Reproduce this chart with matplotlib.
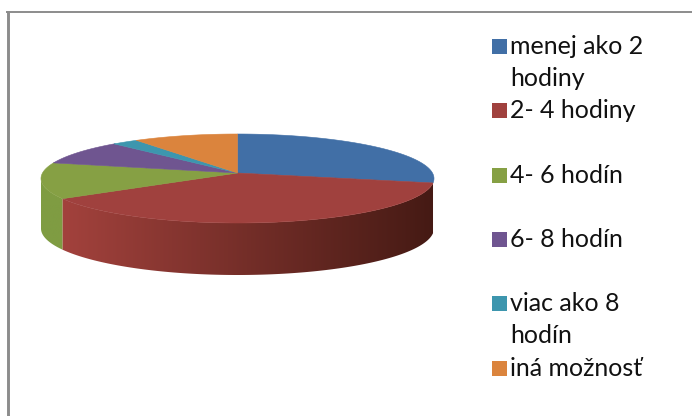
import numpy as np
import matplotlib
matplotlib.use("Agg")
import matplotlib.pyplot as plt
from matplotlib.colors import to_rgb, LinearSegmentedColormap
from matplotlib.patches import Rectangle, Polygon

categories = ["menej ako 2\nhodiny", "2- 4 hodiny", "4- 6 hodín", "6- 8 hodín", "viac ako 8\nhodín", "iná možnosť"]
values = [26.6, 40.9, 13.2, 8.5, 2.2, 8.6]
colors = ["#416fa6", "#a0413e", "#86a044", "#6f5590", "#3d96ae", "#db843d"]
legend_rows = [46.5, 110.5, 175.5, 239.5, 303.5, 368.5]

W, H = 692, 416
fig = plt.figure(figsize=(W / 100, H / 100), dpi=100, facecolor="white")
ax = fig.add_axes([0, 0, 1, 1])
ax.set_xlim(0, W)
ax.set_ylim(H, 0)
ax.axis("off")

# chart frame: only the top and left edges fall inside the picture
ax.plot([7.5, 7.5], [11, H], color="#8c8c8c", lw=2.1, solid_capstyle="butt")
ax.plot([6, W], [12, 12], color="#8c8c8c", lw=1.4, solid_capstyle="butt")

cx, cy, rx, ry, depth, extra = 237.5, 178.5, 196.5, 44.5, 50, 2
apex = (237.5, 173)


def ell(t):
    return cx + rx * np.cos(t), cy - ry * np.sin(t)


def ell_bottom(t):
    return cx + rx * np.cos(t), cy + depth - (ry + extra) * np.sin(t)


bounds = 90 - 360 * np.cumsum([0] + values) / sum(values)

# side wall (front half only), shaded from left to right
wall = {1: ("#a8443f", "#451a14"), 2: ("#7f9c42", "#7f9c42")}
for i, (c0, c1) in wall.items():
    lo, hi = max(bounds[i + 1], -180), min(bounds[i], 0)
    ts = np.radians(np.linspace(lo, hi, 200))
    x, y = ell(ts)
    xb, yb = ell_bottom(ts)
    poly = Polygon(np.c_[np.r_[x, xb[::-1]], np.r_[y, yb[::-1]]], closed=True,
                   transform=ax.transData, fc="none", ec="none")
    ax.add_patch(poly)
    cmap = LinearSegmentedColormap.from_list("w", [to_rgb(c0), to_rgb(c1)])
    im = ax.imshow(np.linspace(0, 1, 256)[None, :], cmap=cmap, aspect="auto",
                   extent=(cx - rx, cx + rx, 290, 120), zorder=2, interpolation="bilinear")
    im.set_clip_path(poly)
ax.set_xlim(0, W)
ax.set_ylim(H, 0)

# top faces
for i, c in enumerate(colors):
    t = np.radians(np.linspace(bounds[i], bounds[i + 1], 100))
    x, y = ell(t)
    ax.fill(np.r_[apex[0], x], np.r_[apex[1], y], color=c, lw=0.4, ec=c, zorder=3)

# legend
for lab, c, yy in zip(categories, colors, legend_rows):
    ax.add_patch(Rectangle((492, yy - 7.5), 15, 15, color=c, lw=0))
    for k, line in enumerate(lab.split("\n")):
        ax.text(510, yy + 7.5 + 32 * k, line, family="Lato", fontsize=18, color="#111111",
                va="baseline", ha="left")

fig.savefig("out.png", dpi=100, facecolor="white")
